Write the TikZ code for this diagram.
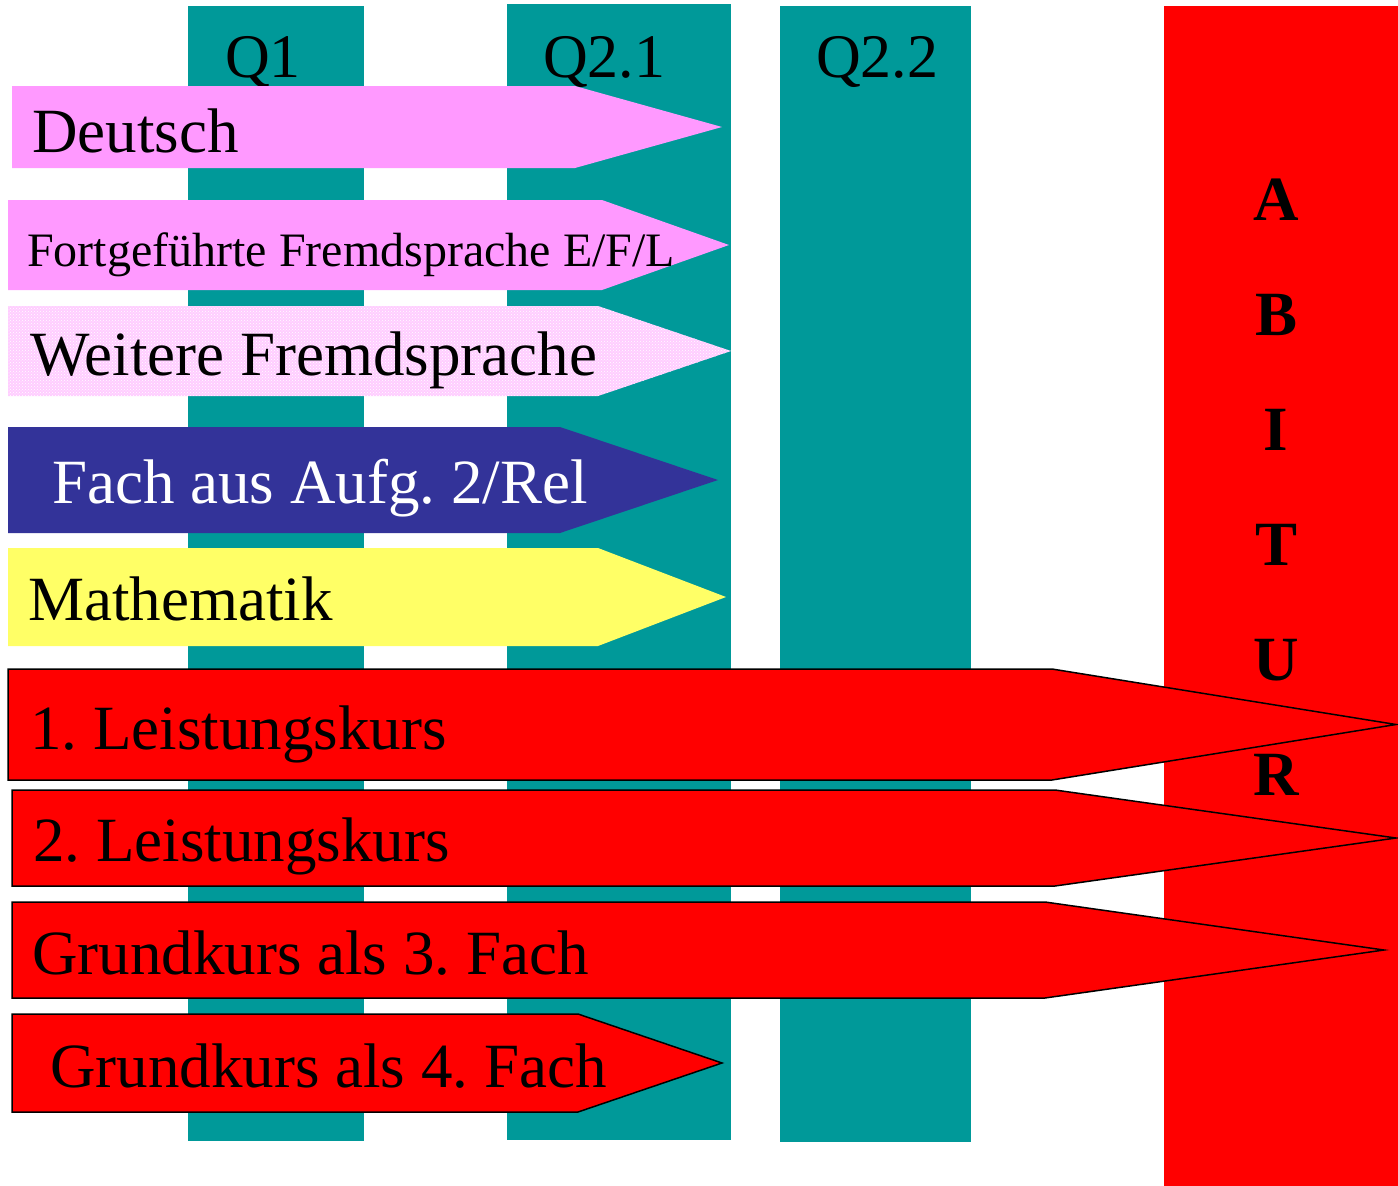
\documentclass[tikz,border=0pt]{standalone}
\usepackage{fontspec}
\setmainfont{Liberation Serif}
\usetikzlibrary{patterns}
\frenchspacing

\definecolor{spalte}{RGB}{0,153,153}
\definecolor{rosa}{RGB}{255,153,255}
\definecolor{rosahell}{RGB}{255,205,255}
\definecolor{blaufach}{RGB}{51,51,153}
\definecolor{gelb}{RGB}{255,255,102}
\definecolor{rot}{RGB}{255,0,0}

% arrow band: style, left x, top y, bottom y, shoulder x, tip x
\newcommand{\fachpfeil}[6]{%
  \path[#1] (#2,#3) -- (#5,#3) -- (#6,{(#3+#4)/2}) -- (#5,#4) -- (#2,#4) -- cycle;}

\begin{document}
\begin{tikzpicture}[
    x=1pt, y=-1pt,
    halbjahr/.style={fill=spalte},
    abispalte/.style={fill=rot},
    qlabel/.style={font=\fontsize{62}{68}\selectfont, inner sep=0pt, anchor=base west},
    fachtext/.style={font=\fontsize{63}{70}\selectfont, inner sep=0pt, anchor=base west},
    kleintext/.style={fachtext, font=\fontsize{48}{54}\selectfont},
    lktext/.style={fachtext, font=\fontsize{63}{70}\selectfont},
    abibuchst/.style={font=\fontsize{63}{70}\selectfont\bfseries, inner sep=0pt, anchor=base},
    pfeilrosa/.style={fill=rosa},
    pfeilmuster/.style={preaction={fill=rosahell}, pattern=crosshatch dots, pattern color=white},
    pfeilblau/.style={fill=blaufach},
    pfeilgelb/.style={fill=gelb},
    pfeilrot/.style={fill=rot, draw=black, line width=1.5pt, line join=miter},
]
\useasboundingbox (0,0) rectangle (1398,1186);

% ============================ half-year columns =========================
\fill[halbjahr] (188,6) rectangle (364,1141);
\fill[halbjahr] (507,4) rectangle (731,1140);
\fill[halbjahr] (780,6) rectangle (971,1142);
\fill[abispalte] (1164,6) rectangle (1398,1186);

\node[qlabel] (q1) at (225,77) {Q1};
\node[qlabel] (q21) at (543,77) {Q2.1};
\node[qlabel] (q22) at (816,77) {Q2.2};

% ============================ subject arrows ============================
\fachpfeil{pfeilrosa}{12}{86}{168}{575}{722}
\fachpfeil{pfeilrosa}{8}{200}{290}{602}{729}
\fachpfeil{pfeilmuster}{8}{306}{396}{598}{731}
\fachpfeil{pfeilblau}{8}{427}{533}{560}{718}
\fachpfeil{pfeilgelb}{8}{548}{646}{598}{726}
\fachpfeil{pfeilrot}{8}{669}{780}{1052}{1396}
\fachpfeil{pfeilrot}{12}{790}{886}{1055}{1396}
\fachpfeil{pfeilrot}{12}{902}{998}{1045}{1384}
\fachpfeil{pfeilrot}{12}{1014}{1112}{578}{722}

\node[fachtext] (deutsch) at (32,152) {Deutsch};
\node[kleintext] (fremd) at (27,266) {Fortgeführte Fremdsprache E/F/L};
\node[fachtext] (weitere) at (30,375) {Weitere Fremdsprache};
\node[fachtext, text=white] (aufg) at (52,503) {Fach aus Aufg. 2/Rel};
\node[fachtext] (mathe) at (28,620) {Mathematik};
\node[lktext] (lk1) at (30,749) {1. Leistungskurs};
\node[lktext] (lk2) at (33,861) {2. Leistungskurs};
\node[fachtext] (gk3) at (32,974) {Grundkurs als 3. Fach};
\node[fachtext] (gk4) at (50,1087) {Grundkurs als 4. Fach};

% ============================ ABITUR ====================================
\foreach \b [count=\i from 0] in {A,B,I,T,U,R}
  \node[abibuchst] (abi\i) at (1276,220+115*\i) {\b};

\end{tikzpicture}
\end{document}
